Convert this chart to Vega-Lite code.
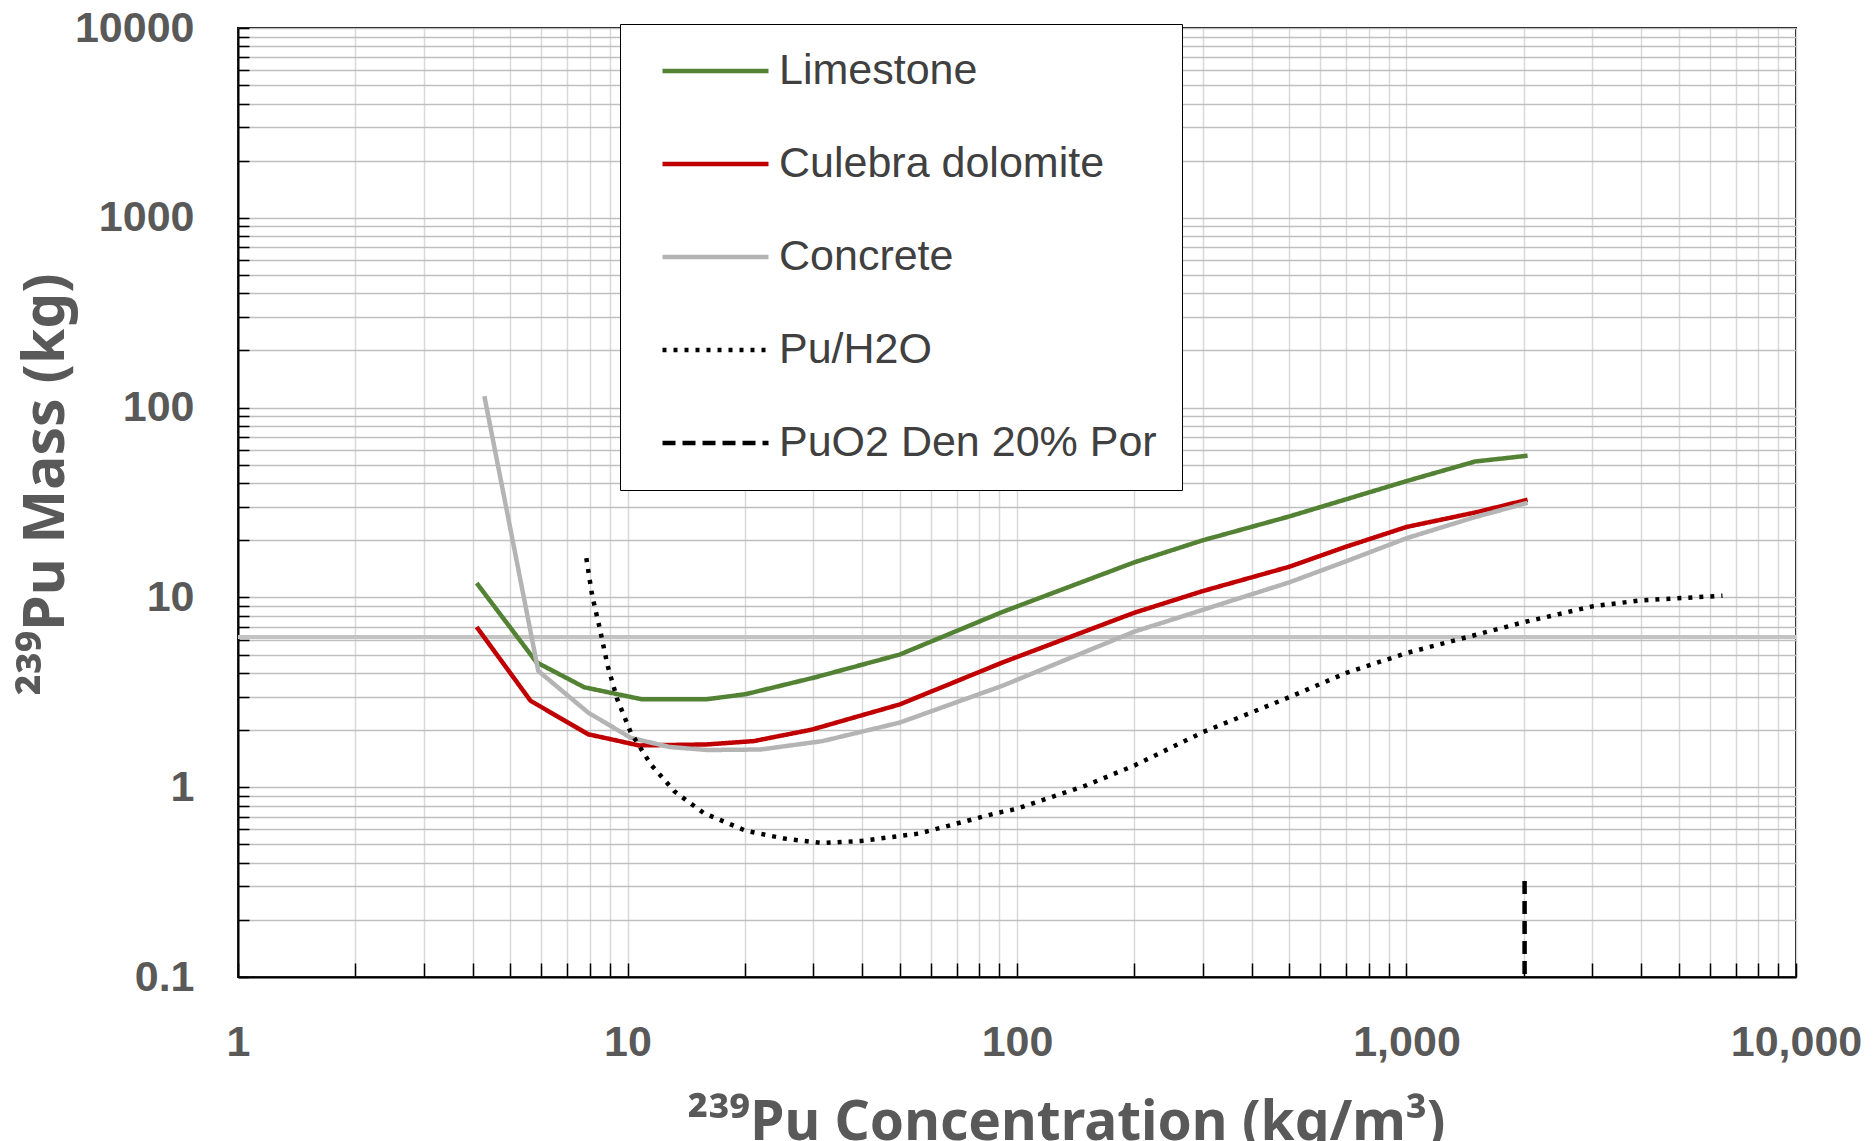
{
  "$schema": "https://vega.github.io/schema/vega-lite/v6.json",
  "width": 1558,
  "height": 949,
  "autosize": {"type": "none"},
  "padding": {"left": 238, "top": 28, "right": 79, "bottom": 164},
  "background": "white",
  "config": {
    "view": {"stroke": "black", "strokeWidth": 2},
    "font": "Liberation Sans"
  },
  "data": {
    "values": [
      {"series": "Limestone", "conc": 4.1, "mass": 11.9},
      {"series": "Limestone", "conc": 5.84, "mass": 4.55},
      {"series": "Limestone", "conc": 7.75, "mass": 3.36},
      {"series": "Limestone", "conc": 10.85, "mass": 2.91},
      {"series": "Limestone", "conc": 16, "mass": 2.91},
      {"series": "Limestone", "conc": 20.1, "mass": 3.09},
      {"series": "Limestone", "conc": 30.3, "mass": 3.79},
      {"series": "Limestone", "conc": 50, "mass": 5.0},
      {"series": "Limestone", "conc": 92, "mass": 8.4},
      {"series": "Limestone", "conc": 200, "mass": 15.3},
      {"series": "Limestone", "conc": 300, "mass": 20},
      {"series": "Limestone", "conc": 500, "mass": 26.7},
      {"series": "Limestone", "conc": 1000, "mass": 41},
      {"series": "Limestone", "conc": 1500, "mass": 52},
      {"series": "Limestone", "conc": 2046, "mass": 55.8},
      {"series": "Culebra dolomite", "conc": 4.1, "mass": 6.98},
      {"series": "Culebra dolomite", "conc": 5.64, "mass": 2.85},
      {"series": "Culebra dolomite", "conc": 7.93, "mass": 1.9},
      {"series": "Culebra dolomite", "conc": 10.7, "mass": 1.66},
      {"series": "Culebra dolomite", "conc": 16, "mass": 1.68},
      {"series": "Culebra dolomite", "conc": 21.1, "mass": 1.75},
      {"series": "Culebra dolomite", "conc": 29.7, "mass": 2.01},
      {"series": "Culebra dolomite", "conc": 50, "mass": 2.73},
      {"series": "Culebra dolomite", "conc": 92, "mass": 4.55},
      {"series": "Culebra dolomite", "conc": 200, "mass": 8.3},
      {"series": "Culebra dolomite", "conc": 300, "mass": 10.8},
      {"series": "Culebra dolomite", "conc": 500, "mass": 14.5},
      {"series": "Culebra dolomite", "conc": 700, "mass": 18.5},
      {"series": "Culebra dolomite", "conc": 1000, "mass": 23.5},
      {"series": "Culebra dolomite", "conc": 1500, "mass": 28},
      {"series": "Culebra dolomite", "conc": 2046, "mass": 32.7},
      {"series": "Concrete", "conc": 4.29, "mass": 115},
      {"series": "Concrete", "conc": 5.9, "mass": 4.1},
      {"series": "Concrete", "conc": 7.93, "mass": 2.47},
      {"series": "Concrete", "conc": 10.2, "mass": 1.82},
      {"series": "Concrete", "conc": 12.8, "mass": 1.63},
      {"series": "Concrete", "conc": 16, "mass": 1.57},
      {"series": "Concrete", "conc": 22, "mass": 1.58},
      {"series": "Concrete", "conc": 31.7, "mass": 1.75},
      {"series": "Concrete", "conc": 50, "mass": 2.19},
      {"series": "Concrete", "conc": 92, "mass": 3.43},
      {"series": "Concrete", "conc": 200, "mass": 6.6},
      {"series": "Concrete", "conc": 300, "mass": 8.6},
      {"series": "Concrete", "conc": 500, "mass": 12},
      {"series": "Concrete", "conc": 700, "mass": 15.5},
      {"series": "Concrete", "conc": 1000, "mass": 20.5},
      {"series": "Concrete", "conc": 1500, "mass": 26.5},
      {"series": "Concrete", "conc": 2046, "mass": 31.5},
      {"series": "Pu/H2O", "conc": 7.84, "mass": 16.1},
      {"series": "Pu/H2O", "conc": 8.11, "mass": 10.3},
      {"series": "Pu/H2O", "conc": 8.49, "mass": 6.84},
      {"series": "Pu/H2O", "conc": 8.89, "mass": 4.37},
      {"series": "Pu/H2O", "conc": 9.41, "mass": 2.91},
      {"series": "Pu/H2O", "conc": 10.2, "mass": 1.94},
      {"series": "Pu/H2O", "conc": 11.5, "mass": 1.31},
      {"series": "Pu/H2O", "conc": 13.2, "mass": 0.95},
      {"series": "Pu/H2O", "conc": 15.7, "mass": 0.73},
      {"series": "Pu/H2O", "conc": 20.1, "mass": 0.59},
      {"series": "Pu/H2O", "conc": 25.3, "mass": 0.536},
      {"series": "Pu/H2O", "conc": 31.7, "mass": 0.508},
      {"series": "Pu/H2O", "conc": 39.8, "mass": 0.521},
      {"series": "Pu/H2O", "conc": 56, "mass": 0.57},
      {"series": "Pu/H2O", "conc": 88, "mass": 0.728},
      {"series": "Pu/H2O", "conc": 100, "mass": 0.77},
      {"series": "Pu/H2O", "conc": 150, "mass": 1.02},
      {"series": "Pu/H2O", "conc": 200, "mass": 1.3},
      {"series": "Pu/H2O", "conc": 300, "mass": 1.95},
      {"series": "Pu/H2O", "conc": 500, "mass": 2.98},
      {"series": "Pu/H2O", "conc": 700, "mass": 4.0},
      {"series": "Pu/H2O", "conc": 1000, "mass": 5.09},
      {"series": "Pu/H2O", "conc": 2000, "mass": 7.4},
      {"series": "Pu/H2O", "conc": 3000, "mass": 8.97},
      {"series": "Pu/H2O", "conc": 4000, "mass": 9.65},
      {"series": "Pu/H2O", "conc": 6475, "mass": 10.2},
      {"series": "PuO2 Den 20% Por", "conc": 2010, "mass": 0.32},
      {"series": "PuO2 Den 20% Por", "conc": 2010, "mass": 0.1}
    ]
  },
  "layer": [
    {
      "mark": {"type": "rule", "color": "#c3c3c3", "strokeWidth": 3},
      "encoding": {
        "y": {
          "datum": 6.2, "type": "quantitative",
          "scale": {"type": "log", "domain": [0.1, 10000], "nice": false},
          "axis": {
            "values": [0.1,0.2,0.3,0.4,0.5,0.6,0.7,0.8,0.9,1,2,3,4,5,6,7,8,9,10,20,30,40,50,60,70,80,90,100,200,300,400,500,600,700,800,900,1000,2000,3000,4000,5000,6000,7000,8000,9000,10000],
            "labelExpr": "datum.value == 0.1 ? '0.1' : datum.value == 1 ? '1' : datum.value == 10 ? '10' : datum.value == 100 ? '100' : datum.value == 1000 ? '1000' : datum.value == 10000 ? '10000' : ''",
            "title": "²³⁹Pu Mass (kg)",
            "grid": true, "gridColor": "#bfbfbf", "gridWidth": 1.5,
            "ticks": true, "tickSize": -11, "tickColor": "black", "tickWidth": 1.5,
            "domain": true, "domainColor": "black", "domainWidth": 2,
            "labelFont": "Liberation Sans", "labelFontSize": 43, "labelFontWeight": "bold", "labelColor": "#595959",
            "labelPadding": 55, "labelFlush": false, "labelOverlap": false, "labelBound": false,
            "titleFont": "Noto Sans", "titleFontSize": 57, "titleFontWeight": "bold", "titleColor": "#595959",
            "titleX": -175, "titleY": 456, "titleBaseline": "alphabetic", "titleAlign": "center", "titleAngle": 270
          }
        }
      }
    },
    {
      "mark": {"type": "line", "strokeWidth": 4.5, "clip": true},
      "encoding": {
        "x": {
          "field": "conc", "type": "quantitative",
          "scale": {"type": "log", "domain": [1, 10000], "nice": false},
          "axis": {
            "values": [1,2,3,4,5,6,7,8,9,10,20,30,40,50,60,70,80,90,100,200,300,400,500,600,700,800,900,1000,2000,3000,4000,5000,6000,7000,8000,9000,10000],
            "labelExpr": "datum.value == 1 ? '1' : datum.value == 10 ? '10' : datum.value == 100 ? '100' : datum.value == 1000 ? '1,000' : datum.value == 10000 ? '10,000' : ''",
            "title": "²³⁹Pu Concentration (kg/m³)",
            "grid": true, "gridColor": "#d9d9d9", "gridWidth": 1.5,
            "ticks": true, "tickSize": -14, "tickColor": "black", "tickWidth": 1.5,
            "domain": true, "domainColor": "black", "domainWidth": 2,
            "labelFont": "Liberation Sans", "labelFontSize": 43, "labelFontWeight": "bold", "labelColor": "#595959",
            "labelPadding": 58, "labelFlush": false, "labelOverlap": false, "labelBound": false,
            "titleFont": "Noto Sans", "titleFontSize": 55, "titleFontWeight": "bold", "titleColor": "#595959",
            "titleX": 828, "titleY": 162, "titleBaseline": "alphabetic", "titleAlign": "center"
          }
        },
        "y": {
          "field": "mass", "type": "quantitative",
          "scale": {"type": "log", "domain": [0.1, 10000], "nice": false},
          "axis": {
            "values": [0.1,0.2,0.3,0.4,0.5,0.6,0.7,0.8,0.9,1,2,3,4,5,6,7,8,9,10,20,30,40,50,60,70,80,90,100,200,300,400,500,600,700,800,900,1000,2000,3000,4000,5000,6000,7000,8000,9000,10000],
            "labelExpr": "datum.value == 0.1 ? '0.1' : datum.value == 1 ? '1' : datum.value == 10 ? '10' : datum.value == 100 ? '100' : datum.value == 1000 ? '1000' : datum.value == 10000 ? '10000' : ''",
            "title": "²³⁹Pu Mass (kg)",
            "grid": true, "gridColor": "#bfbfbf", "gridWidth": 1.5,
            "ticks": true, "tickSize": -11, "tickColor": "black", "tickWidth": 1.5,
            "domain": true, "domainColor": "black", "domainWidth": 2,
            "labelFont": "Liberation Sans", "labelFontSize": 43, "labelFontWeight": "bold", "labelColor": "#595959",
            "labelPadding": 55, "labelFlush": false, "labelOverlap": false, "labelBound": false,
            "titleFont": "Noto Sans", "titleFontSize": 57, "titleFontWeight": "bold", "titleColor": "#595959",
            "titleX": -175, "titleY": 456, "titleBaseline": "alphabetic", "titleAlign": "center", "titleAngle": 270
          }
        },
        "color": {
          "field": "series", "type": "nominal",
          "scale": {
            "domain": ["Limestone", "Culebra dolomite", "Concrete", "Pu/H2O", "PuO2 Den 20% Por"],
            "range": ["#548235", "#c00000", "#b4b4b4", "#000000", "#000000"]
          },
          "legend": {
            "orient": "none", "legendX": 382, "legendY": -4, "title": null,
            "padding": 25, "rowPadding": 49, "clipHeight": 44, "symbolType": "stroke", "symbolSize": 11236,
            "symbolStrokeWidth": 4.5, "symbolOffset": 15, "labelFont": "Liberation Sans",
            "labelFontSize": 43, "labelColor": "#404040", "labelOffset": 8, "labelLimit": 0,
            "strokeColor": "black", "fillColor": "white"
          }
        },
        "strokeDash": {
          "field": "series", "type": "nominal",
          "scale": {
            "domain": ["Limestone", "Culebra dolomite", "Concrete", "Pu/H2O", "PuO2 Den 20% Por"],
            "range": [[1, 0], [1, 0], [1, 0], [4, 7], [13, 7]]
          },
          "legend": {
            "orient": "none", "legendX": 382, "legendY": -4, "title": null,
            "padding": 25, "rowPadding": 49, "clipHeight": 44, "symbolType": "stroke", "symbolSize": 11236,
            "symbolStrokeWidth": 4.5, "symbolOffset": 15, "labelFont": "Liberation Sans",
            "labelFontSize": 43, "labelColor": "#404040", "labelOffset": 8, "labelLimit": 0,
            "strokeColor": "black", "fillColor": "white"
          }
        }
      }
    }
  ]
}
